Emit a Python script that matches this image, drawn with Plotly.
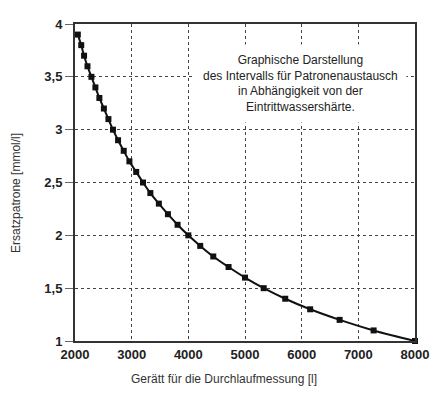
import plotly.graph_objects as go

# Data
volume_l = [2050, 2110, 2160, 2220, 2290, 2360, 2430, 2510, 2590, 2670,
            2760, 2860, 2960, 3080, 3200, 3330, 3480, 3640, 3810, 4000,
            4210, 4440, 4710, 5000, 5330, 5710, 6150, 6670, 7270, 8000]
hardness = [3.9, 3.8, 3.7, 3.6, 3.5, 3.4, 3.3, 3.2, 3.1, 3.0,
            2.9, 2.8, 2.7, 2.6, 2.5, 2.4, 2.3, 2.2, 2.1, 2.0,
            1.9, 1.8, 1.7, 1.6, 1.5, 1.4, 1.3, 1.2, 1.1, 1.0]
x_ticks = [2000, 3000, 4000, 5000, 6000, 7000, 8000]
y_ticks = [1, 1.5, 2, 2.5, 3, 3.5, 4]
y_tick_labels = ["1", "1,5", "2", "2,5", "3", "3,5", "4"]

# page body has an 8px margin; figure is offset to compensate
OFF = 8
W, H = 438 - OFF, 393 - OFF
PL, PR, PT, PB = 75, 419, 17, 341          # plot area in page pixels
ML, MT = PL - OFF, PT - OFF
MR = (OFF + W) - PR
MB = (OFF + H) - PB
pw = PR - PL
ph = PB - PT


def px_to_paper(px, py):
    """page pixel -> paper coordinates"""
    return (px - PL) / pw, (PB - py) / ph


fig = go.Figure()
fig.add_trace(go.Scatter(
    x=volume_l, y=hardness, mode="lines+markers",
    line=dict(color="#111111", width=2, shape="spline"),
    marker=dict(symbol="square", size=6, color="#111111"),
    showlegend=False, hoverinfo="skip", cliponaxis=False,
))

tickfont = dict(family="Liberation Sans", size=13, color="#222222", weight="bold")
fig.update_xaxes(
    range=[2000, 8000], tickvals=x_ticks, ticktext=[str(v) for v in x_ticks],
    showgrid=True, gridcolor="#444444", griddash="dot", gridwidth=1,
    showline=True, linecolor="#333333", linewidth=2, mirror=True,
    ticks="", tickfont=tickfont, zeroline=False, ticklabeloverflow="allow",
)
fig.update_yaxes(
    range=[1, 4], tickvals=y_ticks, ticktext=y_tick_labels,
    showgrid=True, gridcolor="#444444", griddash="dot", gridwidth=1,
    showline=True, linecolor="#333333", linewidth=2, mirror=True,
    ticks="outside", ticklen=8, tickcolor="#666666", tickwidth=1,
    tickfont=tickfont, zeroline=False,
)

xt, yt = px_to_paper(226, 380)
xy, yy = px_to_paper(16, 190)

fig.update_layout(
    width=W, height=H,
    margin=dict(l=ML, r=MR, t=MT, b=MB),
    paper_bgcolor="white", plot_bgcolor="white",
    font=dict(family="Liberation Sans", size=12, color="#222222"),
    annotations=[
        dict(text="Graphische Darstellung<br>des Intervalls für Patronenaustausch"
                  "<br>in Abhängigkeit von der<br>Eintrittwassershärte.",
             x=5986, y=3.435, xref="x", yref="y", showarrow=False,
             align="center", bgcolor="white", borderpad=8,
             font=dict(size=12, color="#222222")),
        dict(text="Gerätt für die Durchlaufmessung [l]",
             x=xt, y=yt, xref="paper", yref="paper",
             xanchor="center", yanchor="middle",
             showarrow=False, font=dict(size=12, color="#333333")),
        dict(text="Ersatzpatrone [mmol/l]", textangle=-90,
             x=xy, y=yy, xref="paper", yref="paper",
             xanchor="center", yanchor="middle",
             showarrow=False, font=dict(size=12, color="#333333")),
    ],
)

fig.write_html("out.html", config={"displayModeBar": False, "responsive": False})
